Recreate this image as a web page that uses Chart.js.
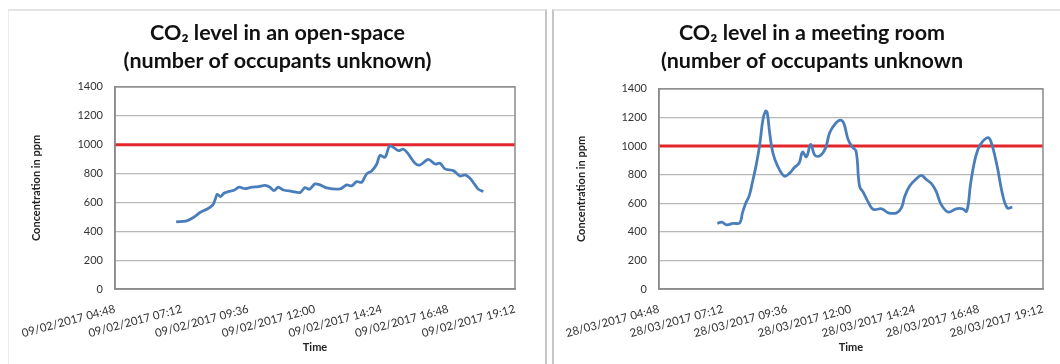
<!DOCTYPE html>
<html><head><meta charset="utf-8">
<script src="https://cdn.jsdelivr.net/npm/chart.js@4.4.1/dist/chart.umd.min.js"></script>
<style>
html,body{margin:0;padding:0;background:#fff;width:1060px;height:364px;overflow:hidden;position:relative}
.panel{position:absolute;box-sizing:border-box}
#p1{left:8px;top:9px;width:539px;height:400px;border-top:2px solid #e4e4e4;border-left:1px solid #ececec;border-right:2px solid #c6c6c6}
#p2{left:552px;top:9px;width:540px;height:400px;border-top:2px solid #e4e4e4;border-left:2px solid #c6c6c6}
canvas{position:absolute}
#c1{left:9px;top:10px}
#c2{left:553px;top:10px}
</style></head><body>
<div class="panel" id="p1"></div><div class="panel" id="p2"></div>
<canvas id="c1" width="537" height="354"></canvas>
<canvas id="c2" width="518" height="354"></canvas>
<script>
// ---- data (time in hours of the day, CO2 in ppm) ----
const axisMin = 4.8, axisMax = 19.2;
const tickHours = [4.8, 7.2, 9.6, 12.0, 14.4, 16.8, 19.2];
const yTicks = [0, 200, 400, 600, 800, 1000, 1200, 1400];
const threshold = 1000;
const openSpaceTickLabels = ['09/02/2017 04:48','09/02/2017 07:12','09/02/2017 09:36','09/02/2017 12:00','09/02/2017 14:24','09/02/2017 16:48','09/02/2017 19:12'];
const meetingTickLabels = ['28/03/2017 04:48','28/03/2017 07:12','28/03/2017 09:36','28/03/2017 12:00','28/03/2017 14:24','28/03/2017 16:48','28/03/2017 19:12'];
const openSpaceTitle = ['CO\u2082 level in an open-space', '(number of occupants unknown)'];
const meetingTitle = ['CO\u2082 level in a meeting room', '(number of occupants unknown'];

const openSpaceHours = [7.00,7.38,7.62,7.86,8.10,8.32,8.40,8.48,8.60,8.72,8.88,9.06,9.27,9.48,9.72,9.96,10.20,10.38,10.52,10.68,10.86,11.16,11.46,11.64,11.80,12.00,12.18,12.42,12.90,13.14,13.32,13.50,13.68,13.86,14.04,14.22,14.34,14.52,14.68,14.82,15.00,15.18,15.36,15.60,15.78,16.08,16.32,16.50,16.68,16.98,17.22,17.40,17.58,17.76,17.88,18.06];
const openSpacePpm = [465,472,495,530,552,582,617,656,640,663,675,682,705,695,705,709,718,705,682,705,686,677,668,702,691,728,721,700,693,721,714,744,739,797,818,864,926,912,991,982,958,968,935,871,859,898,866,871,832,820,783,790,767,721,691,675];

const meetingHours = [6.99,7.15,7.34,7.58,7.83,7.93,8.06,8.18,8.30,8.45,8.58,8.70,8.80,8.86,8.95,9.07,9.25,9.50,9.69,9.87,10.06,10.18,10.33,10.49,10.65,10.86,11.05,11.20,11.42,11.60,11.73,11.89,12.04,12.19,12.32,12.47,12.66,12.84,13.15,13.40,13.71,13.89,14.02,14.20,14.45,14.64,14.82,15.01,15.19,15.38,15.65,15.94,16.18,16.34,16.49,16.68,16.86,17.11,17.24,17.48,17.67,17.86,18.05];
const meetingPpm = [459,468,449,459,463,533,603,650,743,872,1012,1187,1245,1233,1093,953,860,790,809,848,883,958,925,1012,935,935,988,1093,1159,1182,1159,1047,995,965,720,673,603,557,561,533,533,568,650,720,771,795,767,739,685,592,538,561,561,545,743,930,1012,1058,1035,860,673,568,573];

const frame = {
  id: 'frame',
  afterDatasetsDraw(chart) {
    const a = chart.chartArea, c = chart.ctx;
    c.save();
    c.strokeStyle = '#8a8a8a';
    c.lineWidth = 1.5;
    c.strokeRect(a.left, a.top, a.right - a.left, a.bottom - a.top);
    c.restore();
  }
};

function makeChart(id, hours, ppm, tickLabels, titleLines, L) {
  const series = hours.map((h, i) => ({x: h, y: ppm[i]}));
  const limit = [{x: axisMin, y: threshold}, {x: axisMax, y: threshold}];
  return new Chart(document.getElementById(id), {
    type: 'line',
    data: {datasets: [
      {data: series, borderColor: '#4a7ebb', borderWidth: 2.8, pointRadius: 0, tension: L.tension, fill: false, order: 0},
      {data: limit, borderColor: '#e3262b', borderWidth: 3, pointRadius: 0, tension: 0, fill: false, order: 1}
    ]},
    options: {
      responsive: false, animation: false, devicePixelRatio: 1,
      layout: {padding: 0},
      plugins: {
        legend: {display: false}, tooltip: {enabled: false},
        title: {display: true, text: titleLines, color: '#111',
          font: {family: 'Lato', size: 21.5, weight: 'bold', lineHeight: 1.3},
          padding: {top: 9, bottom: L.titleBottom}}
      },
      scales: {
        x: {
          type: 'linear', min: axisMin, max: axisMax,
          afterBuildTicks: s => { s.ticks = tickHours.map(v => ({value: v})); },
          afterFit: s => { s.height = L.xHeight; },
          grid: {display: false, drawTicks: false},
          border: {display: true, color: '#8a8a8a', width: 1.5},
          ticks: {autoSkip: false, minRotation: 15, maxRotation: 15, padding: 13, color: '#333',
            font: {family: 'Lato', size: 11.5}, callback: (v, i) => tickLabels[i]},
          title: {display: true, text: 'Time', color: '#222',
            font: {family: 'Lato', size: 11, weight: 'bold'}, padding: {top: 4, bottom: 10.4}}
        },
        y: {
          min: 0, max: 1400,
          afterBuildTicks: s => { s.ticks = yTicks.map(v => ({value: v})); },
          afterFit: s => { s.width = L.yWidth; },
          grid: {color: '#b8b8b8', lineWidth: 1.2, drawTicks: false},
          border: {display: true, color: '#8a8a8a', width: 1.5},
          ticks: {padding: 12, color: '#333', font: {family: 'Lato', size: 11}, callback: v => String(v)},
          title: {display: true, text: 'Concentration in ppm', color: '#222',
            font: {family: 'Lato', size: 11, weight: 'bold'}, padding: {top: L.yTitle, bottom: 0}}
        },
        spacer: {
          type: 'linear', position: 'right', display: true,
          afterFit: s => { s.width = L.right; },
          grid: {display: false, drawTicks: false},
          border: {display: false},
          ticks: {display: false}
        }
      }
    },
    plugins: [frame]
  });
}

makeChart('c1', openSpaceHours, openSpacePpm, openSpaceTickLabels, openSpaceTitle,
  {right: 31, titleBottom: 12, xHeight: 75, yWidth: 106, yTitle: 20.4, tension: 0.3});
makeChart('c2', meetingHours, meetingPpm, meetingTickLabels, meetingTitle,
  {right: 28, titleBottom: 14, xHeight: 75, yWidth: 102, yTitle: 17.4, tension: 0.4});
</script>
</body></html>
